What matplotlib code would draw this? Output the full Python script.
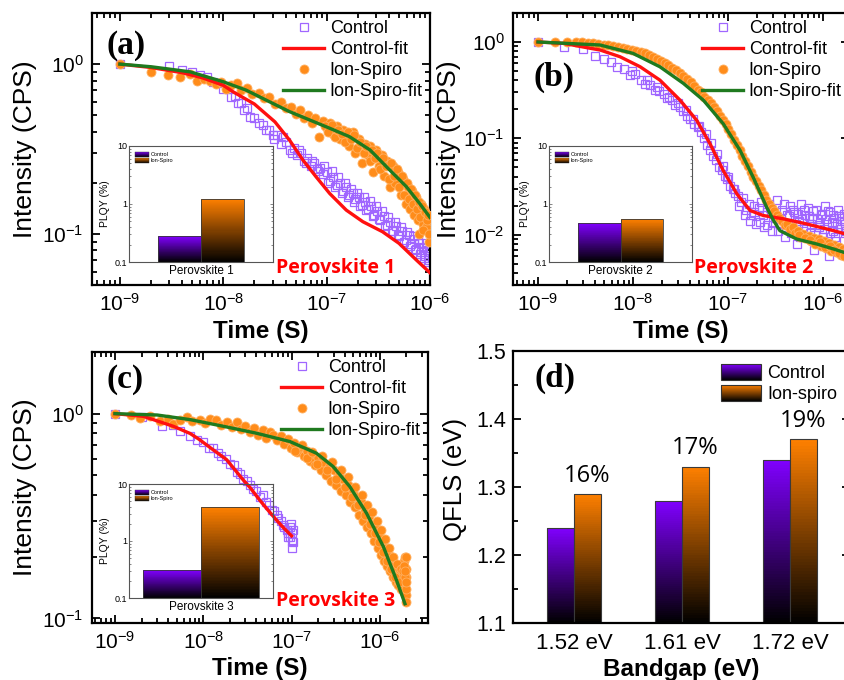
import numpy as np
import matplotlib
matplotlib.use('Agg')
import matplotlib.pyplot as plt
from matplotlib.colors import to_rgb
from matplotlib.patches import Rectangle, Patch
from matplotlib.legend_handler import HandlerBase
from matplotlib.ticker import (LogLocator, FixedLocator, FixedFormatter,
                               MultipleLocator, NullFormatter, LogFormatterSciNotation)

plt.rcParams['font.family'] = ['Liberation Sans', 'DejaVu Sans']
plt.rcParams['mathtext.fontset'] = 'custom'
plt.rcParams['mathtext.rm'] = 'Liberation Sans'
plt.rcParams['mathtext.it'] = 'Liberation Sans:italic'
plt.rcParams['mathtext.bf'] = 'Liberation Sans:bold'

# ---- data (time in ns, normalised intensity) ----
# panel (a) Perovskite 1
a_ctrl_t = [1, 3, 4, 5, 6, 7, 8, 9, 10, 11,
            12, 13, 14, 15, 16, 17, 18, 20, 22, 24,
            26, 28, 30, 33, 36, 40, 44, 48, 52, 56,
            60, 65, 70, 75, 80, 86, 92, 100, 108, 116,
            125, 135, 145, 155, 165, 178, 190, 205, 220, 235,
            250, 270, 290, 310, 330, 355, 380, 410, 440, 470,
            500, 540, 580, 620, 660, 700, 740, 780, 820, 860,
            900, 940, 980,
            31, 38, 46, 54, 63, 72, 83,
            95, 104, 112, 121, 130, 140, 150, 160, 172, 184,
            197, 212, 228, 243, 260, 280, 300, 320, 342, 367,
            395, 425, 455, 485, 520, 560, 600, 640, 680, 720,
            760, 800, 840, 880, 920, 960, 1000]
a_ctrl_i = [1.0, 0.97, 0.92, 0.90, 0.86, 0.84, 0.78, 0.77, 0.71, 0.71,
            0.64, 0.65, 0.59, 0.59, 0.54, 0.55, 0.49, 0.48, 0.45, 0.44,
            0.41, 0.41, 0.38, 0.38, 0.34, 0.35, 0.31, 0.32, 0.29, 0.30,
            0.27, 0.28, 0.25, 0.26, 0.24, 0.245, 0.225, 0.23, 0.205, 0.215,
            0.195, 0.20, 0.18, 0.19, 0.17, 0.175, 0.16, 0.165, 0.148, 0.155,
            0.14, 0.145, 0.13, 0.137, 0.12, 0.128, 0.113, 0.118, 0.104, 0.111,
            0.097, 0.104, 0.092, 0.098, 0.087, 0.093, 0.082, 0.088, 0.078, 0.084,
            0.074, 0.08, 0.07,
            0.36, 0.37, 0.30, 0.31, 0.26, 0.27, 0.235,
            0.25, 0.20, 0.235, 0.19, 0.215, 0.175, 0.20, 0.165, 0.185, 0.155,
            0.175, 0.145, 0.165, 0.138, 0.157, 0.128, 0.146, 0.122, 0.137, 0.112,
            0.126, 0.104, 0.118, 0.098, 0.11, 0.09, 0.103, 0.085, 0.097, 0.08,
            0.092, 0.076, 0.088, 0.072, 0.083, 0.068, 0.078]
a_fitc_t = [1, 2, 4, 6.3, 10, 12.6, 20, 31.6, 43.7, 59, 79, 107, 155, 224, 347, 501, 741, 1000]
a_fitc_i = [1.0, 0.955, 0.89, 0.83, 0.75, 0.684, 0.582, 0.457, 0.357, 0.272, 0.217, 0.173,
            0.138, 0.118, 0.103, 0.088, 0.070, 0.059]
a_ion_t = [1, 2, 2.9, 3.8, 4.8, 5.6, 6.5, 7.4, 8.5, 9.5,
           10.7, 12, 13.5, 15, 17, 19, 22, 25, 28, 32,
           36, 40, 45, 50, 55, 60, 66, 72, 78, 85,
           92, 100, 108, 116, 125, 135, 145, 155, 165, 178,
           190, 205, 220, 235, 250, 265, 282, 300, 320, 340,
           360, 385, 410, 435, 460, 490, 520, 550, 580, 610,
           640, 670, 700, 730, 760, 790, 820, 850, 880, 910,
           940, 970, 1000,
           96, 104, 112, 121, 130, 140, 150, 160, 172, 184,
           197, 212, 228, 243, 260, 275, 292, 310, 330, 350,
           372, 397, 422, 448, 475, 505, 535, 565, 595, 625,
           655, 685, 715, 745, 775, 805, 835, 865, 895, 925,
           955, 985]
a_ion_i = [1.0, 0.90, 0.86, 0.84, 0.88, 0.79, 0.82, 0.79, 0.76, 0.78,
           0.71, 0.75, 0.77, 0.70, 0.72, 0.67, 0.68, 0.63, 0.64, 0.58,
           0.60, 0.55, 0.56, 0.51, 0.54, 0.48, 0.50, 0.45, 0.48, 0.37,
           0.46, 0.42, 0.45, 0.39, 0.43, 0.36, 0.41, 0.38, 0.33, 0.40,
           0.30, 0.36, 0.26, 0.34, 0.29, 0.33, 0.23, 0.31, 0.25, 0.29,
           0.22, 0.27, 0.19, 0.25, 0.20, 0.23, 0.17, 0.21, 0.15, 0.19,
           0.14, 0.18, 0.13, 0.165, 0.12, 0.10, 0.15, 0.115, 0.14, 0.11,
           0.125, 0.09, 0.12,
           0.43, 0.40, 0.44, 0.37, 0.41, 0.39, 0.35, 0.40, 0.36, 0.38,
           0.32, 0.35, 0.30, 0.33, 0.27, 0.31, 0.28, 0.30, 0.24, 0.28,
           0.25, 0.21, 0.26, 0.22, 0.24, 0.19, 0.22, 0.17, 0.20, 0.16,
           0.185, 0.15, 0.17, 0.14, 0.155, 0.125, 0.145, 0.105, 0.135, 0.12,
           0.13, 0.10]
a_fiti_t = [1, 2, 3.2, 4.8, 10, 16.6, 28, 43.7, 69, 107, 166, 263, 407, 589, 794, 1000]
a_fiti_i = [1.0, 0.965, 0.93, 0.90, 0.787, 0.703, 0.60, 0.525, 0.468, 0.419, 0.374, 0.312,
            0.238, 0.19, 0.151, 0.125]

# panel (b) Perovskite 2
b_ctrl_t = [1, 1.9, 3, 4, 4.9, 5.8, 6.8, 8, 9.2, 10.5,
            12, 13.5, 15, 17, 19, 21, 23, 25.5, 28, 31,
            34, 37, 40, 44, 48, 52, 56, 60, 65, 70,
            75, 80, 86, 92, 98, 105, 112, 120, 128, 136,
            145, 155, 165, 175, 186, 198, 210, 225, 240, 255,
            270, 290, 310, 330, 350, 370, 395, 420, 445, 470,
            500, 530, 560, 590, 620, 650, 690, 730, 770, 810,
            850, 900, 950, 1000, 1050, 1100, 1150, 1200, 1260, 1320,
            1380, 1440, 1500, 1560, 1620, 1680, 1740,
            9.8, 14, 18, 24, 30, 36, 43, 50, 58, 67, 77, 88, 100, 115,
            130, 150, 170, 190, 215, 235, 260, 280, 300, 320,
            340, 360, 385, 410, 435, 460, 485, 515, 545, 575,
            605, 635, 670, 710, 750, 790, 830, 875, 925, 975,
            1025, 1075, 1125, 1175, 1230, 1290, 1350, 1410, 1470, 1530,
            1590, 1650, 1710]
b_ctrl_i = [1.0, 0.89, 0.84, 0.72, 0.66, 0.62, 0.55, 0.52, 0.45, 0.47,
            0.40, 0.37, 0.36, 0.32, 0.31, 0.29, 0.26, 0.25, 0.22, 0.21,
            0.19, 0.17, 0.16, 0.14, 0.13, 0.115, 0.10, 0.085, 0.075, 0.066,
            0.06, 0.05, 0.047, 0.041, 0.038, 0.032, 0.030, 0.027, 0.025, 0.022,
            0.024, 0.018, 0.021, 0.016, 0.020, 0.013, 0.019, 0.022, 0.012, 0.017,
            0.021, 0.011, 0.015, 0.023, 0.013, 0.018, 0.0095, 0.016, 0.020, 0.012,
            0.017, 0.008, 0.014, 0.021, 0.011, 0.016, 0.019, 0.0105, 0.015, 0.007,
            0.018, 0.012, 0.016, 0.0095, 0.020, 0.013, 0.006, 0.017, 0.011, 0.015,
            0.0085, 0.018, 0.012, 0.0155, 0.007, 0.014, 0.011,
            0.50, 0.40, 0.34, 0.27, 0.23, 0.195, 0.16, 0.135, 0.11, 0.09, 0.068, 0.052, 0.04, 0.03,
            0.02, 0.016, 0.014, 0.017, 0.0135, 0.016, 0.0125, 0.019, 0.0135, 0.017,
            0.011, 0.0145, 0.021, 0.012, 0.0155, 0.0105, 0.018, 0.013, 0.0165, 0.0095,
            0.0145, 0.018, 0.0115, 0.0155, 0.013, 0.0175, 0.01, 0.0145, 0.0125, 0.0165,
            0.0115, 0.0145, 0.0175, 0.0105, 0.0135, 0.016, 0.0095, 0.013, 0.0155, 0.0115,
            0.014, 0.0165, 0.0105]
b_fitc_t = [1, 1.86, 3.55, 4.5, 7.3, 11.9, 19.2, 31.3, 46.8, 64.6, 89, 124, 171, 235,
            382, 676, 1288, 1700]
b_fitc_i = [1.0, 0.968, 0.86, 0.826, 0.703, 0.553, 0.402, 0.249, 0.154, 0.088, 0.0464,
            0.0265, 0.0178, 0.0158, 0.0146, 0.0129, 0.011, 0.0102]
b_ion_t = [1, 1.5, 2, 2.5, 2.9, 3.4, 3.8, 4.3, 4.9, 5.5,
           6.2, 7, 7.8, 8.7, 9.7, 10.8, 12, 13.3, 14.7, 16.2,
           17.8, 19.6, 21.5, 23.6, 26, 28.5, 31, 34, 37, 40.5,
           44, 48, 52, 56.5, 61, 66, 71, 76.5, 82, 88,
           94.5, 101, 108, 116, 124, 133, 142, 152, 162, 173,
           185, 197, 210, 224, 238, 253, 270, 288, 306, 326,
           347, 370, 395, 420, 448, 478, 510, 545, 580, 620,
           660, 705, 750, 800, 850, 905, 960, 1020, 1085, 1150,
           1220, 1300, 1380, 1460, 1550, 1640, 1740,
           560, 640, 730, 830, 930, 1050, 1180, 1320, 1480, 1650]
b_ion_i = [1.0, 1.0, 0.99, 1.0, 0.99, 0.985, 0.98, 0.96, 0.94, 0.93,
           0.91, 0.89, 0.87, 0.85, 0.83, 0.81, 0.78, 0.76, 0.73, 0.70,
           0.67, 0.64, 0.61, 0.58, 0.54, 0.51, 0.48, 0.44, 0.41, 0.38,
           0.35, 0.32, 0.30, 0.27, 0.25, 0.23, 0.21, 0.19, 0.17, 0.155,
           0.14, 0.125, 0.11, 0.097, 0.085, 0.075, 0.066, 0.058, 0.051, 0.045,
           0.040, 0.036, 0.032, 0.029, 0.026, 0.023, 0.021, 0.019, 0.0175, 0.016,
           0.015, 0.014, 0.0125, 0.013, 0.0115, 0.012, 0.0105, 0.011, 0.0095, 0.0102,
           0.0092, 0.0097, 0.0085, 0.0093, 0.0082, 0.009, 0.0076, 0.0086, 0.0072, 0.0082,
           0.0068, 0.0078, 0.0066, 0.0075, 0.0062, 0.0071, 0.0066,
           0.0098, 0.0092, 0.0088, 0.0079, 0.0083, 0.0074, 0.0077, 0.0069, 0.0064, 0.0060]
b_fiti_t = [1, 4.5, 10, 19.2, 33.9, 55, 89, 134, 184, 255, 302, 352, 528, 857, 1288, 1700]
b_fiti_i = [1.0, 0.931, 0.762, 0.553, 0.372, 0.249, 0.142, 0.075, 0.0395, 0.0193, 0.014,
            0.011, 0.009, 0.008, 0.0071, 0.0065]

# panel (c) Perovskite 3
c_ctrl_t = [1, 2, 3.4, 4.5, 5.5, 7.1, 8.5, 10, 11.5, 12.9,
            14.5, 16, 18, 20, 22, 24, 26.3, 28.5, 31, 34,
            37, 40, 43.5, 47.9, 52, 56, 60, 64, 67.6, 71,
            75, 79, 83, 87.9, 92, 96, 100, 105, 95, 100,
            102, 98, 90, 104]
c_ctrl_i = [1.0, 0.96, 0.87, 0.88, 0.82, 0.78, 0.74, 0.73, 0.68, 0.68,
            0.64, 0.62, 0.60, 0.57, 0.56, 0.52, 0.51, 0.48, 0.47, 0.45,
            0.43, 0.42, 0.39, 0.40, 0.37, 0.36, 0.34, 0.335, 0.32, 0.31,
            0.30, 0.285, 0.28, 0.27, 0.26, 0.25, 0.24, 0.235, 0.28, 0.26,
            0.22, 0.29, 0.25, 0.27]
c_fitc_t = [1, 2.1, 4.6, 7.1, 9.1, 13, 18.4, 28.4, 34, 43.6, 52.5, 67.6, 80.5, 100]
c_fitc_i = [1.0, 0.97, 0.867, 0.80, 0.746, 0.665, 0.596, 0.474, 0.435, 0.378, 0.343,
            0.302, 0.278, 0.253]
c_ion_t = [1, 1.5, 1.9, 2.5, 3.2, 4, 4.6, 5.5, 6.5, 7.5,
           9.1, 10.5, 12, 14, 16, 18.5, 21, 24, 27, 30,
           34, 38, 42, 47, 52, 57, 62, 68, 75, 82,
           90, 98, 107, 116, 126, 137, 148, 160, 172, 185,
           199, 214, 229, 245, 262, 280, 299, 319, 340, 362,
           385, 410, 436, 463, 491, 520, 550, 581, 613, 646,
           680, 715, 751, 788, 826, 865, 905, 946, 988, 1031,
           1075, 1120, 1166, 1213, 1261, 1310, 1360, 1411, 1463, 1516,
           1570, 1625, 1681, 1738, 1796, 1855, 1890, 1920, 1940, 1960,
           1975, 1990, 2000, 2000, 2000,
           110, 130, 150, 170, 195, 220, 250, 285, 320, 360,
           400, 440, 480, 525, 570, 620, 670, 720, 770, 820,
           870, 920, 970, 1020, 1080, 1140, 1200, 1270, 1340, 1420,
           1500, 1580, 1660, 1740, 1820, 1870, 1910, 1950, 1985]
c_ion_i = [1.0, 0.98, 0.95, 0.97, 0.92, 0.94, 0.89, 0.93, 0.96, 0.92,
           0.93, 0.90, 0.94, 0.93, 0.88, 0.91, 0.86, 0.91, 0.84, 0.87,
           0.81, 0.85, 0.79, 0.83, 0.76, 0.81, 0.79, 0.74, 0.78, 0.71,
           0.75, 0.68, 0.72, 0.65, 0.69, 0.62, 0.66, 0.59, 0.64, 0.56,
           0.61, 0.53, 0.58, 0.50, 0.55, 0.47, 0.53, 0.45, 0.50, 0.42,
           0.48, 0.40, 0.45, 0.37, 0.42, 0.35, 0.39, 0.32, 0.37, 0.30,
           0.34, 0.28, 0.315, 0.26, 0.29, 0.24, 0.275, 0.22, 0.255, 0.205,
           0.235, 0.19, 0.22, 0.18, 0.205, 0.17, 0.19, 0.16, 0.18, 0.15,
           0.17, 0.145, 0.165, 0.14, 0.16, 0.135, 0.19, 0.15, 0.20, 0.13,
           0.175, 0.12, 0.16, 0.20, 0.14,
           0.66, 0.70, 0.61, 0.65, 0.57, 0.62, 0.53, 0.58, 0.48, 0.53,
           0.44, 0.49, 0.39, 0.44, 0.36, 0.40, 0.32, 0.36, 0.29, 0.33,
           0.26, 0.30, 0.235, 0.27, 0.21, 0.245, 0.19, 0.22, 0.175, 0.20,
           0.16, 0.185, 0.15, 0.175, 0.17, 0.18, 0.16, 0.17, 0.15]
c_fiti_t = [1, 3, 7.1, 17, 39.8, 95.5, 191, 295, 457, 708, 1096, 1549, 1923]
c_fiti_i = [1.0, 0.985, 0.935, 0.867, 0.803, 0.731, 0.641, 0.552, 0.44, 0.326, 0.224,
            0.153, 0.118]

# insets: PLQY (%)
samples = ['Perovskite 1', 'Perovskite 2', 'Perovskite 3']
plqy_ctrl = [0.28, 0.47, 0.31]
plqy_ion = [1.22, 0.55, 3.95]

# panel (d) QFLS
bandgaps = ['1.52 eV', '1.61 eV', '1.72 eV']
qfls_ctrl = [1.24, 1.28, 1.34]
qfls_ion = [1.29, 1.33, 1.37]
gains = ['16%', '17%', '19%']

PURPLE = '#8000FF'
ORANGE = '#FF8000'
SQ = '#A066FF'
CIRC = '#FF8C1A'
RED = '#FF1010'
GREEN = '#1F7A1F'

W, H = 845, 680
fig = plt.figure(figsize=(W / 100, H / 100), dpi=100)


def px_rect(x0, y0, x1, y1):
    return [x0 / W, 1 - y1 / H, (x1 - x0) / W, (y1 - y0) / H]


def grad_bar(ax, x, w, top, bottom, color, log=False, n=60, lw=0.8):
    edges = np.geomspace(bottom, top, n + 1) if log else np.linspace(bottom, top, n + 1)
    base = np.array(to_rgb(color))
    cols = [base * (k + 0.5) / n for k in range(n)]
    ax.bar([x] * n, np.diff(edges), bottom=edges[:-1], width=w, color=cols,
           linewidth=0, antialiased=False)
    ax.bar(x, top - bottom, bottom=bottom, width=w, fill=False,
           edgecolor='#3a3a3a', linewidth=lw)


class GradHandler(HandlerBase):
    def __init__(self, color, lw=0.6):
        super().__init__()
        self.color = np.array(to_rgb(color))
        self.lw = lw

    def create_artists(self, legend, orig_handle, xdescent, ydescent,
                       width, height, fontsize, trans):
        n = 16
        arts = []
        for k in range(n):
            arts.append(Rectangle((-xdescent, -ydescent + height * k / n), width,
                                  height / n * 1.05, facecolor=self.color * (k + 0.5) / n,
                                  edgecolor='none', antialiased=False, transform=trans))
        arts.append(Rectangle((-xdescent, -ydescent), width, height, facecolor='none',
                              edgecolor='#333333', lw=self.lw, transform=trans))
        return arts


def grad_legend(ax, labels, **kw):
    h1, h2 = Patch(), Patch()
    lw = kw.pop('edge_lw', 0.6)
    return ax.legend([h1, h2], labels, frameon=False,
                     handler_map={h1: GradHandler(PURPLE, lw), h2: GradHandler(ORANGE, lw)}, **kw)


def decay(rect, ct, ci, fct, fci, it, ii, fit_t, fit_i, xlim, ylim, yticks,
          tag, tagpos, name, name_y):
    ax = fig.add_axes(rect)
    ax.set_xscale('log')
    ax.set_yscale('log')
    ns = 1e-9
    ax.plot(np.array(ct) * ns, ci, 's', ms=6, mfc='none', mec=SQ, mew=0.9,
            label='Control', zorder=2)
    ax.plot(np.array(fct) * ns, fci, '-', color=RED, lw=2.4, label='Control-fit', zorder=4)
    ax.plot(np.array(it) * ns, ii, 'o', ms=6.5, mfc=CIRC, mec='#FFB060', mew=0.6,
            label='Ion-Spiro', zorder=3)
    ax.plot(np.array(fit_t) * ns, fit_i, '-', color=GREEN, lw=2.4, label='Ion-Spiro-fit',
            zorder=5)
    ax.set_xlim(*xlim)
    ax.set_ylim(*ylim)
    ax.xaxis.set_major_locator(FixedLocator([1e-9, 1e-8, 1e-7, 1e-6]))
    ax.yaxis.set_major_locator(FixedLocator(yticks))
    for axis in (ax.xaxis, ax.yaxis):
        axis.set_major_formatter(LogFormatterSciNotation())
        axis.set_minor_locator(LogLocator(base=10, subs=np.arange(2, 10), numticks=20))
        axis.set_minor_formatter(NullFormatter())
    ax.tick_params(which='both', direction='in', top=True, right=True, width=1.3)
    ax.tick_params(which='major', length=6, labelsize=15, pad=6)
    ax.tick_params(which='minor', length=3.5)
    for s in ax.spines.values():
        s.set_linewidth(1.6)
    ax.set_xlabel('Time (S)', fontsize=17.5, fontweight='bold', va='top')
    ax.xaxis.set_label_coords(0.5, -0.127)
    ax.set_ylabel('Intensity (CPS)', fontsize=19, va='center')
    ax.legend(loc='upper right', frameon=False, fontsize=13, handlelength=2.3,
              handletextpad=0.3, labelspacing=0.22, borderaxespad=0.2, borderpad=0.2,
              numpoints=1)
    ax.text(tagpos[0], tagpos[1], tag, transform=ax.transAxes, fontsize=24,
            fontweight='bold', family='Liberation Serif', va='center', ha='left')
    ax.text(name[1], name_y, name[0], transform=ax.transAxes, fontsize=14,
            fontweight='bold', family='Open Sans', color='red', ha='right', va='center',
            zorder=10)
    return ax


def inset(rect, c, i, w, name):
    ax = fig.add_axes(rect)
    ax.patch.set_alpha(0)
    ax.set_yscale('log')
    grad_bar(ax, -w / 2, w, c, 0.1, PURPLE, log=True, lw=0.6)
    grad_bar(ax, w / 2, w, i, 0.1, ORANGE, log=True, lw=0.6)
    ax.set_ylim(0.1, 10)
    ax.set_xlim(-1, 1)
    ax.set_xticks([])
    ax.yaxis.set_major_locator(FixedLocator([0.1, 1, 10]))
    ax.yaxis.set_major_formatter(FixedFormatter(['0.1', '1', '10']))
    ax.yaxis.set_minor_locator(LogLocator(base=10, subs=np.arange(2, 10), numticks=10))
    ax.yaxis.set_minor_formatter(NullFormatter())
    ax.tick_params(axis='y', which='both', direction='in', right=True, width=0.5,
                   color='#555555', labelsize=6.5, pad=1.5)
    ax.tick_params(axis='y', which='major', length=2.5)
    ax.tick_params(axis='y', which='minor', length=1.5)
    for s in ax.spines.values():
        s.set_linewidth(0.8)
        s.set_color('#555555')
    ax.set_ylabel('PLQY (%)', fontsize=7.5, va='center')
    ax.yaxis.set_label_coords(-0.167, 0.5)
    ax.set_xlabel(name, fontsize=8.5, labelpad=2)
    grad_legend(ax, ['Control', 'Ion-Spiro'], loc='upper left', fontsize=4,
                handlelength=2.6, handleheight=1.1, handletextpad=0.3, labelspacing=0.1,
                borderaxespad=0.6, edge_lw=0.3)
    return ax


# (a)
ax_a = decay(px_rect(92, 13, 430, 285), a_ctrl_t, a_ctrl_i, a_fitc_t, a_fitc_i,
             a_ion_t, a_ion_i, a_fiti_t, a_fiti_i,
             (10 ** -9.27, 10 ** -6.0), (0.05, 2.0), [0.1, 1], '(a)', (0.044, 0.88),
             ('Perovskite 1', 0.896), 0.0625)
ax_a.yaxis.set_label_coords(-0.198, 0.5)
inset(px_rect(129, 146, 273, 262), plqy_ctrl[0], plqy_ion[0], 0.6, samples[0])

# (b)
ax_b = decay(px_rect(513, 13, 849, 285), b_ctrl_t, b_ctrl_i, b_fitc_t, b_fitc_i,
             b_ion_t, b_ion_i, b_fiti_t, b_fiti_i,
             (10 ** -9.263, 10 ** -5.726), (0.003, 2.0), [0.01, 0.1, 1], '(b)', (0.06, 0.765),
             ('Perovskite 2', 0.893), 0.0625)
ax_b.yaxis.set_label_coords(-0.19, 0.5)
inset(px_rect(549, 146, 692, 262), plqy_ctrl[1], plqy_ion[1], 0.6, samples[1])

# (c)
ax_c = decay(px_rect(92, 352, 428, 623), c_ctrl_t, c_ctrl_i, c_fitc_t, c_fitc_i,
             c_ion_t, c_ion_i, c_fiti_t, c_fiti_i,
             (10 ** -9.26, 10 ** -5.455), (0.095, 2.0), [0.1, 1], '(c)', (0.044, 0.897),
             ('Perovskite 3', 0.903), 0.081)
ax_c.yaxis.set_label_coords(-0.198, 0.5)
inset(px_rect(129, 484, 273, 598), plqy_ctrl[2], plqy_ion[2], 0.8, samples[2])

# (d)
ax_d = fig.add_axes(px_rect(513, 351, 850, 623))
w = 0.25
xs = np.arange(1, len(bandgaps) + 1)
for x, c, i, g in zip(xs, qfls_ctrl, qfls_ion, gains):
    grad_bar(ax_d, x - w / 2, w, c, 1.1, PURPLE)
    grad_bar(ax_d, x + w / 2, w, i, 1.1, ORANGE)
    ax_d.text(x + w / 2, i + 0.009, g, ha='center', va='bottom', fontsize=17,
              family='Open Sans')
ax_d.set_xlim(0.435, 3.555)
ax_d.set_ylim(1.1, 1.5)
ax_d.set_xticks(xs)
ax_d.set_xticklabels(bandgaps)
ax_d.yaxis.set_major_locator(MultipleLocator(0.1))
ax_d.yaxis.set_minor_locator(MultipleLocator(0.05))
ax_d.tick_params(axis='x', length=0, labelsize=16, pad=7)
ax_d.tick_params(axis='y', which='both', direction='in', right=True, width=1.3,
                 labelsize=15.5, pad=5)
ax_d.tick_params(axis='y', which='major', length=6)
ax_d.tick_params(axis='y', which='minor', length=3.5)
for s in ax_d.spines.values():
    s.set_linewidth(1.6)
ax_d.set_xlabel('Bandgap (eV)', fontsize=17.5, fontweight='bold', va='top')
ax_d.xaxis.set_label_coords(0.5, -0.127)
ax_d.set_ylabel('QFLS (eV)', fontsize=18.5, va='center')
ax_d.yaxis.set_label_coords(-0.172, 0.526)
ax_d.text(0.065, 0.90, '(d)', transform=ax_d.transAxes, fontsize=24, fontweight='bold',
          family='Liberation Serif', va='center', ha='left')
grad_legend(ax_d, ['Control', 'Ion-spiro'], loc='upper right', fontsize=13,
            handlelength=2.2, handleheight=1.0, handletextpad=0.35, labelspacing=0.15,
            borderaxespad=0.4, borderpad=0.3, edge_lw=0.8)

fig.savefig('out.png', dpi=100)
